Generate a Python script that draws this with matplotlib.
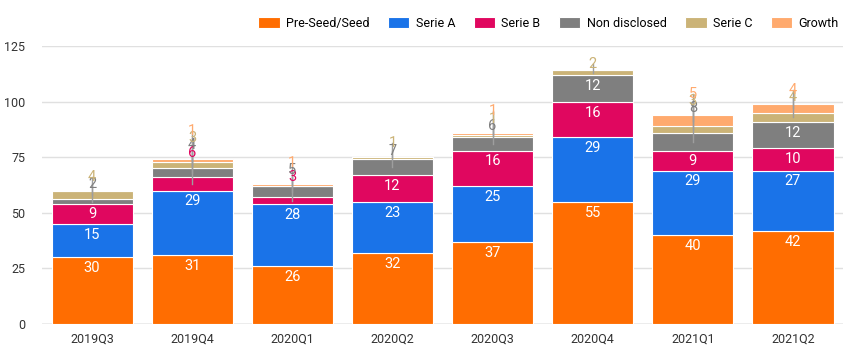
import matplotlib
matplotlib.use("Agg")
import matplotlib.pyplot as plt
import numpy as np

plt.rcParams['font.family'] = ['Roboto', 'DejaVu Sans']

quarters = ["2019Q3", "2019Q4", "2020Q1", "2020Q2", "2020Q3", "2020Q4", "2021Q1", "2021Q2"]
seed = [30, 31, 26, 32, 37, 55, 40, 42]
serie_a = [15, 29, 28, 23, 25, 29, 29, 27]
serie_b = [9, 6, 3, 12, 16, 16, 9, 10]
non_disclosed = [2, 4, 5, 7, 6, 12, 8, 12]
serie_c = [4, 3, 0, 1, 1, 2, 3, 4]
growth = [0, 1, 1, 0, 1, 0, 5, 4]

series_names = ["Pre-Seed/Seed", "Serie A", "Serie B", "Non disclosed", "Serie C", "Growth"]
series_vals = [seed, serie_a, serie_b, non_disclosed, serie_c, growth]
colors = ["#FF6D01", "#1A73E8", "#E0075F", "#7F7F7F", "#CBB377", "#FFAA6E"]

fig = plt.figure(figsize=(8.5, 3.52), dpi=100)
ax = fig.add_axes([0.0494, 0.0795, 0.9424, 0.7898])

x = np.arange(len(quarters))
width = 0.81
bottom = np.zeros(len(quarters))
mids = []
tops = []
for name, vals, c in zip(series_names, series_vals, colors):
    v = np.array(vals, dtype=float)
    ax.bar(x, v, width, bottom=bottom, color=c, edgecolor="white", linewidth=0.8,
           label=name, zorder=3)
    mids.append(bottom + v / 2)
    tops.append(bottom + v)
    bottom = bottom + v
totals = bottom

# labels
for i in range(len(quarters)):
    k = 0
    for s, (vals, c) in enumerate(zip(series_vals, colors)):
        v = vals[i]
        if v <= 0:
            continue
        if v >= 9:
            ypos = max(mids[s][i], tops[s][i] - 4.9)
            ax.text(x[i], ypos, str(v), ha="center", va="center",
                    color="white", fontsize=10.5, zorder=5)
        else:
            ypos = totals[i] + 3 + k * 3.3
            ax.plot([x[i], x[i]], [mids[s][i], ypos], color="#9E9E9E",
                    linewidth=1, zorder=4)
            ax.text(x[i], ypos, str(v), ha="center", va="center",
                    color=c, fontsize=10.5, zorder=5)
            k += 1

ax.set_xlim(-0.5, len(quarters) - 0.5)
ax.set_ylim(0, 125)
ax.set_yticks([0, 25, 50, 75, 100, 125])
ax.set_xticks(x)
ax.set_xticklabels(quarters)
ax.tick_params(axis="both", length=0, labelsize=9, colors="#333333")
ax.tick_params(axis="y", pad=12)
ax.tick_params(axis="x", pad=6)
ax.yaxis.grid(True, color="#E0E0E0", linewidth=1, zorder=0)
ax.set_axisbelow(True)
for sp in ax.spines.values():
    sp.set_visible(False)
ax.axhline(0, color="#BDBDBD", linewidth=1, zorder=2)

fig.legend(loc="upper right", bbox_to_anchor=(1.0, 0.985), ncol=6, frameon=False,
           fontsize=9, handlelength=1.7, handleheight=1.0, columnspacing=1.5,
           handletextpad=0.5)

fig.savefig("out.png", dpi=100)
